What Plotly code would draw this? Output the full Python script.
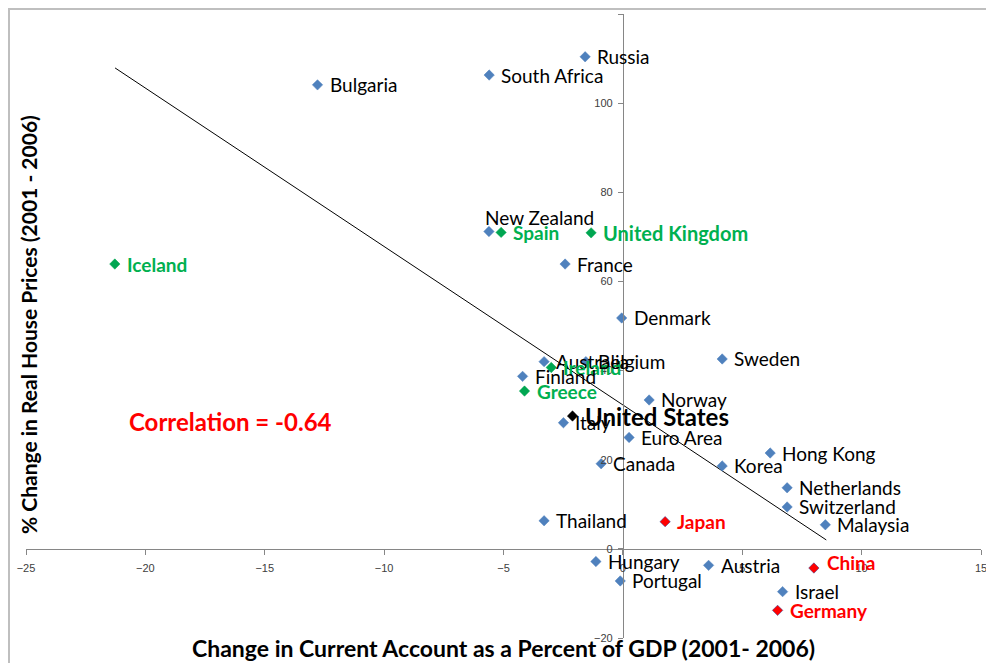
import plotly.graph_objects as go

# ---- data ----
countries = ["Russia", "South Africa", "Bulgaria", "New Zealand", "Spain", "Iceland",
             "France", "United Kingdom", "Denmark", "Australia", "Ireland", "Belgium",
             "Finland", "Greece", "Norway", "United States", "Italy", "Euro Area",
             "Sweden", "Hong Kong", "Canada", "Korea", "Netherlands", "Switzerland",
             "Malaysia", "Thailand", "Japan", "Hungary", "Austria", "China",
             "Portugal", "Israel", "Germany"]
current_account = [-1.58, -5.60, -12.79, -5.61, -5.10, -21.28,
                   -2.42, -1.33, -0.05, -3.30, -3.00, -1.55,
                   -4.20, -4.12, 1.10, -2.11, -2.49, 0.26,
                   4.16, 6.17, -0.91, 4.16, 6.88, 6.88,
                   8.48, -3.30, 1.77, -1.13, 3.59, 8.00,
                   -0.11, 6.69, 6.48]
house_prices = [110.4, 106.3, 104.1, 71.2, 71.0, 63.9,
                63.9, 70.9, 51.8, 42.0, 40.7, 42.0,
                38.7, 35.4, 33.4, 29.8, 28.3, 25.0,
                42.6, 21.5, 19.1, 18.6, 13.7, 9.4,
                5.4, 6.3, 6.1, -2.85, -3.7, -4.3,
                -7.2, -9.6, -13.8]
# group: "base", "green", "red", "us"
groups = ["base", "base", "base", "base", "green", "green",
          "base", "green", "base", "base", "green", "base",
          "base", "green", "base", "us", "base", "base",
          "base", "base", "base", "base", "base", "base",
          "base", "base", "red", "base", "base", "red",
          "base", "base", "red"]

trend_x = [-21.27, 8.52]
trend_y = [107.9, 2.0]

x_ticks = [-25, -20, -15, -10, -5, 0, 5, 10, 15]
y_ticks = [-20, 0, 20, 40, 60, 80, 100, 120]

correlation_text = "Correlation = -0.64"
x_title = "Change in Current Account as a Percent of GDP (2001- 2006)"
y_title = "% Change in Real House Prices (2001 - 2006)"

# ---- styles ----
# the page body adds an 8px offset; compensate so the plot area sits at
# pixels x 26..981, y 14..638 of the window
OFF = 8
W, H = 994 - OFF, 663 - OFF
ML, MR, MT, MB = 26 - OFF, 13, 14 - OFF, 25
PW, PH = W - ML - MR, H - MT - MB


def px_to_paper_x(px):
    return (px - OFF - ML) / PW


def px_to_paper_y(py):
    return (H - MB - (py - OFF)) / PH


marker_col = {"base": "#4F81BD", "green": "#00A651", "red": "#FF0000", "us": "#000000"}
marker_line = {"base": "#4F81BD", "green": "#00A651", "red": "#1F3A93", "us": "#000000"}
label_col = {"base": "#000000", "green": "#00B050", "red": "#FF0000", "us": "#000000"}
label_bold = {"base": False, "green": True, "red": True, "us": True}
label_size = {"base": 19, "green": 19, "red": 19, "us": 24}
special_size = {"United Kingdom": 20}
label_offsets = {"New Zealand": (-6, 14), "China": (11, 6)}
FONT = "Lato, 'Open Sans', sans-serif"

fig = go.Figure()

fig.add_trace(go.Scatter(x=trend_x, y=trend_y, mode="lines",
                         line=dict(color="#000000", width=1), hoverinfo="skip",
                         showlegend=False))

for g in ["base", "green", "red", "us"]:
    idx = [i for i, gg in enumerate(groups) if gg == g]
    fig.add_trace(go.Scatter(
        x=[current_account[i] for i in idx],
        y=[house_prices[i] for i in idx],
        text=[countries[i] for i in idx],
        mode="markers",
        marker=dict(symbol="diamond", size=8, color=marker_col[g],
                    line=dict(color=marker_line[g], width=0.5)),
        showlegend=False,
    ))

annotations = []
for c, xv, yv, g in zip(countries, current_account, house_prices, groups):
    dx, dy = label_offsets.get(c, (10, 0))
    txt = f"<b>{c}</b>" if label_bold[g] else c
    annotations.append(dict(
        x=xv, y=yv, xref="x", yref="y", text=txt, showarrow=False,
        xanchor="left", yanchor="middle", xshift=dx, yshift=dy,
        font=dict(family=FONT, size=special_size.get(c, label_size[g]),
                  color=label_col[g]),
    ))

annotations.append(dict(
    x=-20.75, y=28.5, xref="x", yref="y", text=f"<b>{correlation_text}</b>",
    showarrow=False, xanchor="left", yanchor="middle",
    font=dict(family=FONT, size=24, color="#FF0000")))

annotations.append(dict(
    x=px_to_paper_x(503), y=px_to_paper_y(648), xref="paper", yref="paper",
    text=f"<b>{x_title}</b>",
    showarrow=False, xanchor="center", yanchor="middle",
    font=dict(family=FONT, size=23, color="#000000")))

annotations.append(dict(
    x=px_to_paper_x(28), y=px_to_paper_y(325), xref="paper", yref="paper",
    text=f"<b>{y_title}</b>",
    showarrow=False, xanchor="center", yanchor="middle", textangle=-90,
    font=dict(family=FONT, size=21, color="#000000")))

fig.update_layout(
    width=W, height=H,
    margin=dict(l=ML, r=MR, t=MT, b=MB, autoexpand=False),
    paper_bgcolor="#FFFFFF", plot_bgcolor="#FFFFFF",
    annotations=annotations,
    shapes=[dict(type="rect", xref="paper", yref="paper",
                 x0=px_to_paper_x(9), x1=1.05, y0=-0.1, y1=px_to_paper_y(9),
                 line=dict(color="#BFBFBF", width=2), layer="below")],
    xaxis=dict(range=[-25, 15], tickvals=x_ticks, showgrid=False, zeroline=False,
               showline=True, linecolor="#868686", linewidth=1,
               ticks="outside", ticklen=5, tickcolor="#868686",
               anchor="free", position=20 / 140, automargin=False,
               ticklabelstandoff=4,
               tickfont=dict(family="Liberation Sans, Arial", size=11, color="#404040")),
    yaxis=dict(range=[-20, 120], tickvals=y_ticks, showgrid=False, zeroline=False,
               showline=True, linecolor="#868686", linewidth=1,
               ticks="outside", ticklen=5, tickcolor="#868686",
               anchor="free", position=25 / 40, automargin=False,
               ticklabelstandoff=3,
               tickfont=dict(family="Liberation Sans, Arial", size=11, color="#404040")),
)

fig.write_html("out.html")
